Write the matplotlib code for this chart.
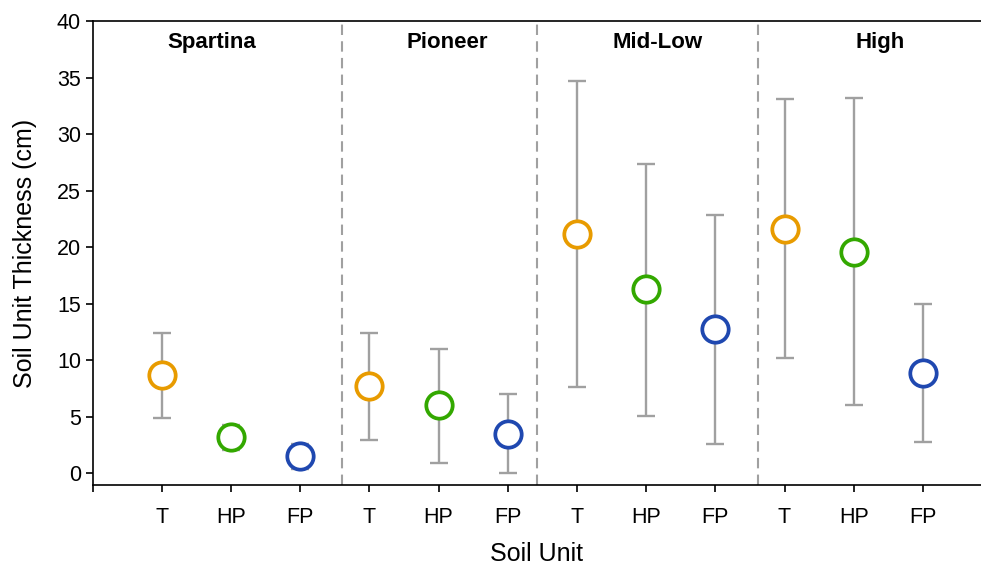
import matplotlib.pyplot as plt

plt.rcParams['font.family'] = ['Liberation Sans', 'DejaVu Sans']

groups = ["Spartina", "Pioneer", "Mid-Low", "High"]
units = ["T", "HP", "FP"]
unit_colors = ["#E89B00", "#33A800", "#1F48B0"]

means = [8.7, 3.2, 1.5,
         7.7, 6.0, 3.5,
         21.2, 16.3, 12.8,
         21.6, 19.6, 8.9]
lower = [4.9, 2.1, 0.4,
         2.9, 0.9, 0.0,
         7.6, 5.1, 2.6,
         10.2, 6.0, 2.8]
upper = [12.4, 4.3, 2.6,
         12.4, 11.0, 7.0,
         34.7, 27.4, 22.9,
         33.1, 33.2, 15.0]

separators = [3.6, 6.42, 9.62]
label_x = [1.72, 5.12, 8.17, 11.38]

fig = plt.figure(figsize=(9.81, 5.65), dpi=100)
ax = fig.add_axes([0.0945, 0.1416, 0.9055, 0.8207])

xs = list(range(1, len(means) + 1))
for i, x in enumerate(xs):
    m = means[i]
    ax.errorbar(x, m, yerr=[[m - lower[i]], [upper[i] - m]], fmt='none',
                ecolor='#A0A0A0', elinewidth=1.7, capsize=6.3, capthick=1.7, zorder=2)
    ax.plot(x, m, 'o', ms=19, mfc='white', mec=unit_colors[i % 3], mew=2.7, zorder=3)

for s in separators:
    ax.axvline(s, color='#A0A0A0', lw=1.5, ls=(0, (5, 3)), zorder=1)

for name, lx in zip(groups, label_x):
    ax.text(lx, 38.1, name, ha='center', va='center', fontsize=16, fontweight='bold')

ax.set_xlim(0, 12.84)
ax.set_ylim(-1.04, 40)
ax.set_yticks(range(0, 41, 5))
ax.set_xticks([0] + xs)
ax.set_xticklabels([""] + units * 4)
ax.tick_params(labelsize=15.5, length=5, width=1.2)
ax.tick_params(axis='x', pad=11)

ax.spines['right'].set_visible(False)
for sp in ['left', 'bottom', 'top']:
    ax.spines[sp].set_linewidth(1.2)

ax.set_xlabel("Soil Unit", fontsize=18, labelpad=10)
ax.set_ylabel("Soil Unit Thickness (cm)", fontsize=18, labelpad=14)

fig.savefig("out.png", dpi=100)
